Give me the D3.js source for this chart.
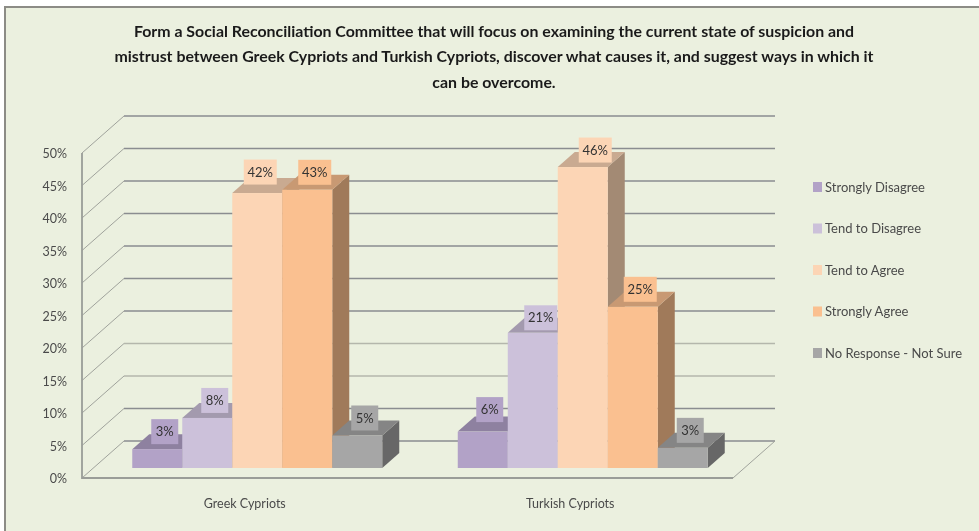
<!DOCTYPE html>
<html><head><meta charset="utf-8">
<script src="https://cdn.jsdelivr.net/npm/d3@7/dist/d3.min.js"></script>
<style>html,body{margin:0;padding:0;background:#fff}svg{display:block}text{font-family:Lato,"Open Sans",sans-serif}</style>
</head><body><div id="chart"></div>
<script>
const titleLines = [
  "Form a Social Reconciliation Committee that will focus on examining the current state of suspicion and",
  "mistrust between Greek Cypriots and Turkish Cypriots, discover what causes it, and suggest ways in which it",
  "can be overcome."
];
const groups = ["Greek Cypriots", "Turkish Cypriots"];
const seriesNames = ["Strongly Disagree", "Tend to Disagree", "Tend to Agree", "Strongly Agree", "No Response - Not Sure"];
const greekValues = [2.9, 7.7, 42.3, 42.8, 5.0];
const turkishValues = [5.6, 20.8, 46.3, 24.8, 3.1];
const yTicks = [0, 5, 10, 15, 20, 25, 30, 35, 40, 45, 50];
const lightTicks = [10, 15];
const frontColors = ["#b2a2c7", "#ccc1da", "#fcd5b5", "#fac090", "#a6a6a6"];
const topColors = ["#8e81a0", "#a39aae", "#c9aa91", "#c89973", "#858585"];
const sideColors = ["#6b6178", "#7a7383", "#a38a74", "#a07a5a", "#676767"];
const valuesByGroup = [greekValues, turkishValues];

const W = 979, H = 531;
const svg = d3.select("#chart").append("svg").attr("width", W).attr("height", H);
const root = svg.append("g");

root.append("rect").attr("x", 0).attr("y", 0).attr("width", W).attr("height", H).attr("fill", "#fff");
root.append("rect").attr("x", 4).attr("y", 6).attr("width", W - 4).attr("height", H - 6).attr("fill", "#8c8c86");
root.append("rect").attr("x", 6).attr("y", 8).attr("width", W - 6).attr("height", H - 8).attr("fill", "#ebf0df");

// plane geometry
const floorLeft = 82, floorRight = 733, floorY = 478;
const wallDx = 42, wallDy = -37;
const y = d3.scaleLinear().domain([0, 50]).range([floorY, floorY - 325]);

const grid = root.append("g");
yTicks.forEach(t => {
  const c = lightTicks.includes(t) ? "#b4b7ac" : "#8a8d90";
  grid.append("path")
    .attr("d", `M${floorLeft},${y(t)}L${floorLeft + wallDx},${y(t) + wallDy}`)
    .attr("fill", "none").attr("stroke", "#a0a39c").attr("stroke-width", 1);
  grid.append("path")
    .attr("d", `M${floorLeft + wallDx},${y(t) + wallDy}H${floorRight + wallDx}`)
    .attr("fill", "none").attr("stroke", c).attr("stroke-width", 1.5);
  root.append("text").attr("x", 67).attr("y", y(t) + 1).attr("dy", "0.35em")
    .attr("text-anchor", "end").attr("font-size", 12.5).attr("fill", "#4a4a4a").text(t + "%");
});
grid.append("path").attr("d", `M${floorLeft},${y(50)}V${floorY}H${floorRight}`)
  .attr("fill", "none").attr("stroke", "#9a9d98").attr("stroke-width", 1.8);
grid.append("path").attr("d", `M${floorRight},${floorY}l${wallDx},${wallDy}`)
  .attr("fill", "none").attr("stroke", "#a0a39c").attr("stroke-width", 1);

// bars
const barBase = 10, depthX = 17, depthY = -15, innerSpan = 250;
const groupX = d3.scaleBand().domain(groups).range([floorLeft, floorRight]);
const labelNudge = { "0-2": [3, -21], "1-0": [7, -22], "1-1": [8, -15], "1-2": [12.5, -17] };

const barsG = root.append("g");
const labelsG = root.append("g");
groups.forEach((g, gi) => {
  const center = groupX(g) + groupX.bandwidth() / 2;
  const cx = center + 12.5;
  const inner = d3.scaleBand().domain(seriesNames).range([cx - innerSpan / 2, cx + innerSpan / 2]);
  const vals = valuesByGroup[gi];
  seriesNames.forEach((s, i) => {
    const x0 = inner(s), w = inner.bandwidth();
    const top = y(vals[i]) - barBase, bot = floorY - barBase;
    const b = barsG.append("g");
    b.append("path").attr("d", `M${x0 + w},${top}l${depthX},${depthY}V${bot + depthY}l${-depthX},${-depthY}Z`).attr("fill", sideColors[i]);
    b.append("path").attr("d", `M${x0},${top}l${depthX},${depthY}H${x0 + w + depthX}l${-depthX},${-depthY}Z`).attr("fill", topColors[i]);
    b.append("rect").attr("x", x0).attr("y", top).attr("width", w).attr("height", bot - top).attr("fill", frontColors[i]);

    const [nx, ny] = labelNudge[gi + "-" + i] || [7.5, -17.5];
    const lx = x0 + w / 2 + nx, ly = top + ny;
    const txt = Math.round(vals[i]) + "%";
    const bw = txt.length > 2 ? 33 : 27;
    labelsG.append("rect").attr("x", lx - bw / 2).attr("y", ly - 12.5).attr("width", bw).attr("height", 25).attr("fill", frontColors[i]);
    labelsG.append("text").attr("x", lx).attr("y", ly).attr("dy", "0.35em").attr("text-anchor", "middle")
      .attr("font-size", 13).attr("fill", "#333").text(txt);
  });
  root.append("text").attr("x", center).attr("y", 504).attr("dy", "0.35em").attr("text-anchor", "middle")
    .attr("font-size", 12.5).attr("fill", "#4a4a4a").text(g);
});

// legend
const legendY = d3.scalePoint().domain(seriesNames).range([187, 353]);
seriesNames.forEach((s, i) => {
  const yy = legendY(s);
  root.append("rect").attr("x", 813).attr("y", yy - 5).attr("width", 9).attr("height", 10).attr("fill", frontColors[i]);
  root.append("text").attr("x", 825).attr("y", yy).attr("dy", "0.35em").attr("font-size", 13).attr("fill", "#4a4a4a").text(s);
});

// title
titleLines.forEach((t, i) => {
  root.append("text").attr("x", 494).attr("y", 31 + i * 25.5).attr("dy", "0.35em").attr("text-anchor", "middle")
    .attr("font-size", 15.9).attr("font-weight", 700).attr("fill", "#1a1a1a").text(t);
});
root.style("filter", "blur(0.6px)");
</script></body></html>
